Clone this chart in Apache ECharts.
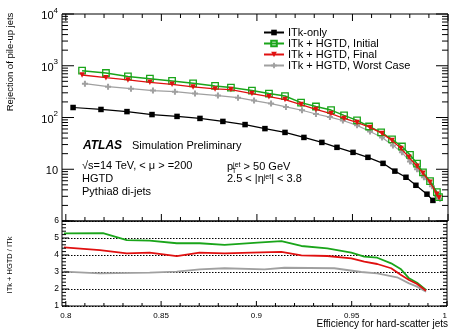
<!DOCTYPE html>
<html><head><meta charset="utf-8">
<script src="https://cdn.jsdelivr.net/npm/echarts/dist/echarts.min.js"></script>
<style>html,body{margin:0;padding:0;background:#fff}#c{width:450px;height:331px}</style>
</head><body><div id="c"></div>
<script>
// ---- data ----
const effITk = [0.8038,0.8184,0.8320,0.8451,0.8582,0.8702,0.8822,0.8938,0.9042,0.9147,0.9246,0.9340,0.9419,0.9503,0.9581,0.9660,0.9722,0.9780,0.9832,0.9890,0.9921];
const rejITk = [156,143,130,114,105,96,84,73,61,51.5,41.2,33.0,26.5,21.2,17.0,13.0,9.2,7.0,4.9,3.3,2.5];

const effInit = [0.8085,0.8210,0.8325,0.8440,0.8556,0.8666,0.8781,0.8864,0.8974,0.9063,0.9147,0.9231,0.9309,0.9388,0.9456,0.9524,0.9587,0.9650,0.9707,0.9759,0.9801,0.9838,0.9869,0.9906,0.9942,0.9953];
const rejInit = [802,725,622,562,508,457,408,378,331,290,260,194,163,139,110,88,67,51.5,37.8,27.5,19,12.8,8.7,5.9,3.6,2.9];

const effFinal = [0.8085,0.8210,0.8325,0.8440,0.8556,0.8666,0.8781,0.8864,0.8974,0.9063,0.9147,0.9231,0.9309,0.9388,0.9456,0.9524,0.9592,0.9655,0.9707,0.9754,0.9796,0.9838,0.9869,0.9906,0.9942,0.9953];
const rejFinal = [662,588,531,478,437,389,356,346,290,253,222,178,143,119,95.7,80.1,64.3,49.2,36.1,25.3,17.0,11.4,8.4,5.6,3.3,2.8];

const effWorst = [0.8100,0.8221,0.8341,0.8456,0.8571,0.8676,0.8796,0.8901,0.8985,0.9074,0.9152,0.9236,0.9309,0.9382,0.9450,0.9524,0.9592,0.9655,0.9712,0.9759,0.9801,0.9838,0.9874,0.9916,0.9942,0.9958];
const rejWorst = [451,395,361,331,316,290,265,242,212,186,160,138,117,102,87.5,70.5,53.8,41.2,28.9,21.2,14.1,10.0,7.0,4.7,3.0,2.7];

const ratioEffInit = [0.799,0.8195,0.8320,0.8440,0.8582,0.8702,0.8833,0.9006,0.9131,0.9236,0.9372,0.9498,0.9566,0.9634,0.9707,0.9759,0.9801,0.9843,0.9890];
const ratioInit    = [5.27,5.28,4.88,4.84,4.69,4.69,4.59,4.73,4.82,4.53,4.39,4.14,3.90,3.84,3.51,3.16,2.63,2.37,1.94];
const ratioEffFinal = [0.799,0.8179,0.8320,0.8440,0.8582,0.8702,0.8833,0.8974,0.9131,0.9236,0.9372,0.9498,0.9566,0.9634,0.9707,0.9759,0.9801,0.9843,0.9890];
const ratioFinal    = [4.45,4.29,4.10,4.14,3.94,4.14,4.10,4.14,4.18,3.98,3.94,3.80,3.61,3.47,3.22,2.82,2.53,2.29,1.90];
const ratioEffWorst = [0.799,0.8179,0.8440,0.8582,0.8702,0.8833,0.9042,0.9147,0.9409,0.9550,0.9634,0.9738,0.9801,0.9843,0.9890];
const ratioWorst    = [3.02,2.92,2.96,3.02,3.16,3.22,3.16,3.25,3.22,3.00,2.92,2.69,2.33,2.14,1.84];

const seriesNames = ['ITk-only','ITk + HGTD, Initial','ITk + HGTD, Final','ITk + HGTD, Worst Case'];
const xTickLabels = [0.8,0.85,0.9,0.95,1];
const logTickLabels = [10,100,1000,10000];
const ratioTickLabels = [1,2,3,4,5,6];

// ---- helpers ----
const FONT = 'Liberation Sans, Arial, Helvetica, sans-serif';
const zip = (a,b) => a.map((v,i)=>[v,b[i]]);
const XMIN = 0.798, XMAX = 1.0;
const C_BLACK='#000000', C_GREEN='#1aa51a', C_RED='#e01010', C_GRAY='#a0a0a0';

// tick decoration values
const xMinor=[]; for(let i=80;i<=100;i++){ if(i%5!==0) xMinor.push(i/100); }
const logMajor=[1,10,100,1000,10000];
const logMinor=[]; for(let e=0;e<4;e++){ for(let m=2;m<=9;m++) logMinor.push(m*Math.pow(10,e)); }
const rMinor=[]; for(let v=1.2;v<5.95;v+=0.2){ if(Math.abs(v-Math.round(v))>0.05) rMinor.push(+v.toFixed(1)); }

function tickData(xMaj,xMin,yMaj,yMin,ylo,yhi,L, xTop){
  const d=[];
  xMaj.forEach(v=>{ d.push([v,ylo,0,L.xM]); if(xTop) d.push([v,yhi,1,L.xM]); });
  xMin.forEach(v=>{ d.push([v,ylo,0,L.xm]); if(xTop) d.push([v,yhi,1,L.xm]); });
  yMaj.forEach(v=>{ d.push([XMIN,v,2,L.yM]); d.push([XMAX,v,3,L.yM]); });
  yMin.forEach(v=>{ d.push([XMIN,v,2,L.ym]); d.push([XMAX,v,3,L.ym]); });
  return d;
}
function renderTick(params, api){
  const p = api.coord([api.value(0), api.value(1)]);
  const k = api.value(2), len = api.value(3);
  let x2=p[0], y2=p[1];
  if(k===0) y2-=len; else if(k===1) y2+=len; else if(k===2) x2+=len; else x2-=len;
  return {type:'line', shape:{x1:p[0],y1:p[1],x2:x2,y2:y2}, style:{stroke:'#000',lineWidth:1}};
}

const plusPath = 'path://M2,0H4V2H6V4H4V6H2V4H0V2H2Z';

const chart = echarts.init(document.getElementById('c'), null, {renderer:'canvas'});
const option = {
  animation:false,
  textStyle:{fontFamily:FONT},
  grid:[
    {left:62, right:2, top:14, height:207, show:true, borderColor:'#000', borderWidth:1, backgroundColor:'transparent'},
    {left:62, right:2, top:221, height:85, show:true, borderColor:'#000', borderWidth:1, backgroundColor:'transparent'}
  ],
  xAxis:[
    {type:'value', gridIndex:0, min:XMIN, max:XMAX, axisLine:{show:false}, axisTick:{show:false}, axisLabel:{show:false}, splitLine:{show:false}},
    {type:'value', gridIndex:1, min:XMIN, max:XMAX, axisLine:{show:false}, axisTick:{show:false}, splitLine:{show:false},
     axisLabel:{customValues:xTickLabels, fontSize:8, color:'#000', margin:6, fontFamily:FONT, alignMaxLabel:'right',
       formatter:v=>String(+(+v).toFixed(2))}}
  ],
  yAxis:[
    {type:'log', gridIndex:0, min:1, max:10000, logBase:10, axisLine:{show:false}, axisTick:{show:false}, splitLine:{show:false},
     axisLabel:{customValues:logTickLabels, margin:4, color:'#000', fontFamily:FONT,
       formatter:v=>{ const e=Math.round(Math.log10(v)); if(e===0) return ''; if(e===1) return '{b|10}'; return '{b|10}{s|'+e+'}'; },
       rich:{b:{fontSize:11, lineHeight:15, verticalAlign:'bottom', fontFamily:FONT, color:'#000'},
             s:{fontSize:8, lineHeight:9, verticalAlign:'top', fontFamily:FONT, color:'#000'}}}},
    {type:'value', gridIndex:1, min:1, max:6, interval:1, axisLine:{show:false}, axisTick:{show:false},
     splitLine:{show:true, lineStyle:{color:'#000', width:1, type:[1.5,1.5]}},
     axisLabel:{customValues:ratioTickLabels, fontSize:8.5, color:'#000', margin:3, fontFamily:FONT}}
  ],
  legend:{
    data:seriesNames, orient:'vertical', left:258, top:22, itemWidth:20, itemHeight:7, itemGap:0,
    textStyle:{fontSize:11, color:'#000', fontFamily:FONT, lineHeight:10.7, padding:[0,0,0,-1]},
    inactiveColor:'#ccc', selectedMode:false
  },
  series:[
    {type:'custom', xAxisIndex:0, yAxisIndex:0, silent:true, clip:false, z:10, renderItem:renderTick,
     data:tickData(xTickLabels,xMinor,logMajor,logMinor,1,10000,{xM:7,xm:4,yM:12,ym:6},true)},
    {type:'custom', xAxisIndex:1, yAxisIndex:1, silent:true, clip:false, z:10, renderItem:renderTick,
     data:tickData(xTickLabels,xMinor,ratioTickLabels,rMinor,1,6,{xM:5,xm:3,yM:7,ym:4},false)},

    {name:seriesNames[0], type:'line', xAxisIndex:0, yAxisIndex:0, data:zip(effITk,rejITk),
     symbol:'rect', symbolSize:5.5, itemStyle:{color:C_BLACK}, lineStyle:{color:C_BLACK, width:1.2}, z:3},
    {name:seriesNames[1], type:'line', xAxisIndex:0, yAxisIndex:0, data:zip(effInit,rejInit),
     symbol:'rect', symbolSize:6.5, itemStyle:{color:'rgba(255,255,255,0)', borderColor:C_GREEN, borderWidth:1.3},
     lineStyle:{color:C_GREEN, width:1.5}, z:4},
    {name:seriesNames[2], type:'line', xAxisIndex:0, yAxisIndex:0, data:zip(effFinal,rejFinal),
     symbol:'triangle', symbolRotate:180, symbolSize:5.5, itemStyle:{color:C_RED}, lineStyle:{color:C_RED, width:1.3}, z:5},
    {name:seriesNames[3], type:'line', xAxisIndex:0, yAxisIndex:0, data:zip(effWorst,rejWorst),
     symbol:plusPath, symbolSize:6, itemStyle:{color:C_GRAY}, lineStyle:{color:C_GRAY, width:1.2}, z:2},

    {name:'ratio Initial', type:'line', xAxisIndex:1, yAxisIndex:1, data:zip(ratioEffInit,ratioInit),
     symbol:'none', lineStyle:{color:C_GREEN, width:1.8}, z:4},
    {name:'ratio Final', type:'line', xAxisIndex:1, yAxisIndex:1, data:zip(ratioEffFinal,ratioFinal),
     symbol:'none', lineStyle:{color:C_RED, width:1.8}, z:5},
    {name:'ratio Worst', type:'line', xAxisIndex:1, yAxisIndex:1, data:zip(ratioEffWorst,ratioWorst),
     symbol:'none', lineStyle:{color:C_GRAY, width:1.8}, z:3}
  ],
  graphic:[
    {type:'text', x:10, y:62, rotation:Math.PI/2, style:{text:'Rejection of pile-up jets', fontSize:9.5, fontFamily:FONT, fill:'#000', align:'center', verticalAlign:'middle'}},
    {type:'text', x:10, y:265, rotation:Math.PI/2, style:{text:'ITk + HGTD / ITk', fontSize:7.5, fontFamily:FONT, fill:'#000', align:'center', verticalAlign:'middle'}},
    {type:'text', x:448, y:324, style:{text:'Efficiency for hard-scatter jets', fontSize:10, fontFamily:FONT, fill:'#000', align:'right', verticalAlign:'middle'}},
    {type:'text', x:83, y:146, style:{text:'ATLAS', fontSize:12, fontWeight:'bold', fontStyle:'italic', fontFamily:FONT, fill:'#000', verticalAlign:'middle'}},
    {type:'text', x:132, y:146, style:{text:'Simulation Preliminary', fontSize:11, fontFamily:FONT, fill:'#000', verticalAlign:'middle'}},
    {type:'text', x:82, y:166, style:{text:'\u221As=14 TeV, < \u03BC > =200', fontSize:11, fontFamily:FONT, fill:'#000', verticalAlign:'middle'}},
    {type:'text', x:82, y:179, style:{text:'HGTD', fontSize:11, fontFamily:FONT, fill:'#000', verticalAlign:'middle'}},
    {type:'text', x:82, y:192, style:{text:'Pythia8 di-jets', fontSize:11, fontFamily:FONT, fill:'#000', verticalAlign:'middle'}},
    {type:'text', x:227, y:167, style:{text:'p{s|jet} > 50 GeV', fontSize:11, fontFamily:FONT, fill:'#000', verticalAlign:'middle',
      rich:{s:{fontSize:7, fontFamily:FONT, fill:'#000', verticalAlign:'top', lineHeight:7}}}},
    {type:'text', x:232, y:171, style:{text:'T', fontSize:7, fontFamily:FONT, fill:'#000', verticalAlign:'middle'}},
    {type:'text', x:227, y:179, style:{text:'2.5 < |\u03B7{s|jet}| < 3.8', fontSize:11, fontFamily:FONT, fill:'#000', verticalAlign:'middle',
      rich:{s:{fontSize:7, fontFamily:FONT, fill:'#000', verticalAlign:'top', lineHeight:7}}}}
  ]
};
chart.setOption(option);
</script>
</body></html>
